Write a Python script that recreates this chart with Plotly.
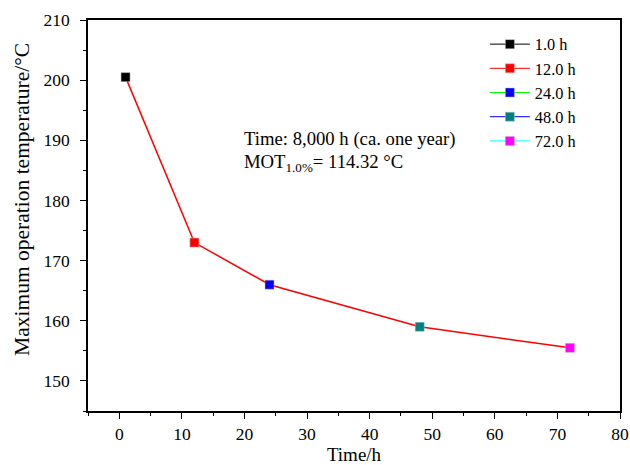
import plotly.graph_objects as go

times = [1.0, 12.0, 24.0, 48.0, 72.0]
temps = [200.5, 173.0, 166.0, 159.0, 155.5]
labels = ["1.0 h", "12.0 h", "24.0 h", "48.0 h", "72.0 h"]
marker_colors = ["#000000", "#ff0000", "#0000ff", "#008080", "#ff00ff"]
legend_line_colors = ["#000000", "#ff0000", "#00ff00", "#0000ff", "#00ffff"]

FONT = "Liberation Serif, Times New Roman, serif"

fig = go.Figure()
fig.add_trace(go.Scatter(x=times, y=temps, mode="lines",
                         line=dict(color="#ff0000", width=1.5),
                         showlegend=False, hoverinfo="skip"))
for t, v, lab, mc, lc in zip(times, temps, labels, marker_colors, legend_line_colors):
    fig.add_trace(go.Scatter(x=[t], y=[v], mode="lines+markers", name=lab,
                             line=dict(color=lc, width=1),
                             marker=dict(symbol="square", size=9, color=mc,
                                         line=dict(width=0.5, color="#bbbbbb"))))

fig.add_annotation(x=0.289, y=0.696, xref="paper", yref="paper", xanchor="left", yanchor="middle",
                   text="Time: 8,000 h (ca. one year)", showarrow=False,
                   font=dict(family=FONT, size=18.7, color="black"))
fig.add_annotation(x=0.289, y=0.635, xref="paper", yref="paper", xanchor="left", yanchor="middle",
                   text="MOT<sub>1.0%</sub>= 114.32 °C", showarrow=False,
                   font=dict(family=FONT, size=18.7, color="black"))
fig.add_annotation(x=-0.124, y=0.54, xref="paper", yref="paper", xanchor="center", yanchor="middle",
                   text="Maximum operation temperature/°C", showarrow=False, textangle=-90,
                   font=dict(family=FONT, size=21.5, color="black"))

axis_common = dict(showgrid=False, zeroline=False, showline=True, linecolor="black", linewidth=1.5,
                   mirror=True, ticks="outside", ticklen=6, tickwidth=1.2, tickcolor="black",
                   automargin=False,
                   tickfont=dict(family=FONT, size=17.5, color="black"))

fig.update_xaxes(range=[-5, 80], dtick=10, tick0=0,
                 minor=dict(ticks="outside", ticklen=3, dtick=5, tick0=0, tickcolor="black"),
                 title=dict(text="Time/h", font=dict(family=FONT, size=19, color="black")),
                 **axis_common)
fig.update_yaxes(range=[145, 210], dtick=10, tick0=150, ticklabelstandoff=7,
                 minor=dict(ticks="outside", ticklen=3, dtick=5, tick0=145, tickcolor="black"),
                 **axis_common)

fig.update_layout(width=630, height=465, plot_bgcolor="white", paper_bgcolor="white",
                  margin=dict(l=88, r=10, t=20, b=54),
                  legend=dict(x=0.746, y=0.982, xanchor="left", yanchor="top",
                              font=dict(family=FONT, size=16.3, color="black"),
                              bgcolor="rgba(0,0,0,0)", itemwidth=40, tracegroupgap=0))

fig.write_html("out.html")
